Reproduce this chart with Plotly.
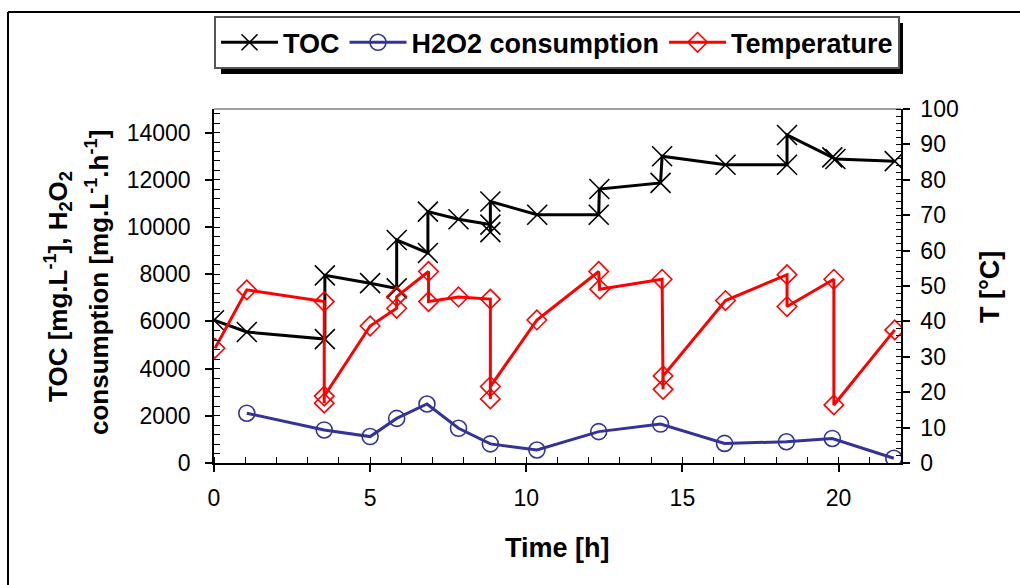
import plotly.graph_objects as go

# ---- data ----
time_toc = [0, 1.05, 3.55, 3.55, 5.0, 5.85, 5.85, 6.85, 6.85, 7.83, 8.85, 8.85, 8.85,
            10.35, 12.32, 12.34, 14.3, 14.35, 16.38, 18.35, 18.35, 19.8, 19.9, 21.8]
toc = [6050, 5550, 5250, 7950, 7620, 7400, 9450, 8900, 10650, 10330, 10100, 9780, 11080,
       10520, 10520, 11610, 11870, 13000, 12640, 12640, 13900, 12950, 12880, 12790]

time_h2o2 = [1.05, 3.53, 5.0, 5.85, 6.82, 7.83, 8.85, 10.34, 12.32, 14.3, 16.35, 18.33, 19.8, 21.77]
h2o2 = [2110, 1400, 1120, 1890, 2500, 1470, 810, 550, 1330, 1650, 830, 900, 1040, 200]

time_temp = [0.03, 1.05, 3.53, 3.53, 3.53, 5.0, 5.85, 5.85, 6.87, 6.87, 7.83, 8.85, 8.85, 8.85,
             10.34, 12.32, 12.35, 14.35, 14.38, 14.38, 16.38, 18.35, 18.35, 19.85, 19.85, 21.8]
temp = [32.4, 48.9, 45.6, 16.9, 18.9, 38.7, 43.7, 47.0, 54.1, 45.6, 46.9, 46.3, 18.1, 21.6,
        40.4, 54.1, 49.1, 51.9, 20.8, 24.6, 45.9, 53.2, 44.2, 51.9, 16.4, 37.6]

x_ticks = [0, 5, 10, 15, 20]
y_left_ticks = [0, 2000, 4000, 6000, 8000, 10000, 12000, 14000]
y_right_ticks = [0, 10, 20, 30, 40, 50, 60, 70, 80, 90, 100]

FONT = "Liberation Sans, Arial, sans-serif"
BLUE = "#333399"
RED = "#FF0000"

fig = go.Figure()
fig.add_trace(go.Scatter(
    x=time_toc, y=toc, name="TOC", mode="lines+markers",
    line=dict(color="black", width=3),
    marker=dict(symbol="x-thin", size=20, line=dict(color="black", width=1.6)),
))
fig.add_trace(go.Scatter(
    x=time_h2o2, y=h2o2, name="H2O2 consumption", mode="lines+markers",
    line=dict(color=BLUE, width=3),
    marker=dict(symbol="circle-open", size=16, color=BLUE, line=dict(color=BLUE, width=1.6)),
))
fig.add_trace(go.Scatter(
    x=time_temp, y=temp, name="Temperature", mode="lines+markers", yaxis="y2",
    line=dict(color=RED, width=3),
    marker=dict(symbol="diamond-open", size=15, color=RED, line=dict(color=RED, width=1.6)),
))

tickfont = dict(family=FONT, size=23, color="black")
common = dict(showgrid=False, zeroline=False, showline=True, linecolor="black", linewidth=1.5,
              tickcolor="black", tickwidth=1.5, tickfont=tickfont, tickformat="d")

fig.update_layout(
    width=1020, height=585,
    margin=dict(l=214, r=119, t=109, b=122, pad=0),
    paper_bgcolor="white", plot_bgcolor="white",
    font=dict(family=FONT, color="black"),
    xaxis=dict(range=[0, 22], tickmode="array", tickvals=x_ticks, ticks="outside", ticklen=7,
               ticklabelstandoff=7,
               minor=dict(dtick=1, ticks="inside", ticklen=6, tickcolor="black", tickwidth=1.2),
               **common),
    yaxis=dict(range=[0, 15000], tickmode="array", tickvals=y_left_ticks, ticks="outside", ticklen=7,
               ticklabelstandoff=10,
               minor=dict(dtick=400, ticks="inside", ticklen=6, tickcolor="black", tickwidth=1.2),
               **common),
    yaxis2=dict(range=[0, 100], overlaying="y", side="right", anchor="x", tickmode="array",
                tickvals=y_right_ticks, ticks="outside", ticklen=7, ticklabelstandoff=6,
                minor=dict(dtick=2, ticks="inside", ticklen=5, tickcolor="black", tickwidth=1.2),
                **common),
    xaxis2=dict(range=[0, 22], overlaying="x", anchor="y", side="bottom", tickmode="array",
                tickvals=x_ticks, ticks="inside", ticklen=7, tickcolor="black", tickwidth=1.5,
                showticklabels=False, showline=False, showgrid=False, zeroline=False),
    yaxis3=dict(range=[0, 15000], overlaying="y", anchor="x", side="left", tickmode="array",
                tickvals=y_left_ticks, ticks="inside", ticklen=7, tickcolor="black", tickwidth=1.5,
                showticklabels=False, showline=False, showgrid=False, zeroline=False),
    yaxis4=dict(range=[0, 100], overlaying="y", anchor="x", side="right", tickmode="array",
                tickvals=y_right_ticks, ticks="inside", ticklen=7, tickcolor="black", tickwidth=1.5,
                showticklabels=False, showline=False, showgrid=False, zeroline=False),
    legend=dict(orientation="h", x=0.0, xanchor="left", y=1.262, yanchor="top",
                bgcolor="white", bordercolor="#555555", borderwidth=2,
                font=dict(family=FONT, size=27, color="black", weight="bold"),
                itemwidth=57, tracegroupgap=0, traceorder="normal"),
    showlegend=True,
)

# frame pieces
W, H = 687.0, 354.0
def px_x(p):
    return (p - 214) / W
def px_y(p):
    return (463 - p) / H

shapes = [
    # legend shadow
    dict(type="rect", xref="paper", yref="paper", x0=px_x(221), x1=px_x(903), y0=px_y(74), y1=px_y(23),
         fillcolor="black", line=dict(width=0), layer="below"),
    # plot top border (grey)
    dict(type="line", xref="paper", yref="paper", x0=0, x1=1, y0=1, y1=1,
         line=dict(color="#808080", width=1.5), layer="below"),
    # outer chart border (left and top visible)
    dict(type="line", xref="paper", yref="paper", x0=px_x(8), x1=px_x(8), y0=px_y(12), y1=px_y(600),
         line=dict(color="black", width=2)),
    dict(type="line", xref="paper", yref="paper", x0=px_x(8), x1=px_x(1030), y0=px_y(12), y1=px_y(12),
         line=dict(color="black", width=2)),
]
fig.update_layout(shapes=shapes)

title_font = dict(family=FONT, size=26, color="black", weight="bold")
title_font2 = dict(family=FONT, size=27, color="black", weight="bold")
annotations = [
    dict(text="TOC [mg.L<sup>-1</sup>], H<sub>2</sub>O<sub>2</sub>", xref="paper", yref="paper",
         x=px_x(58), y=px_y(287), xanchor="center", yanchor="middle", textangle=-90,
         showarrow=False, font=title_font),
    dict(text="consumption [mg.L<sup>-1</sup>.h<sup>-1</sup>]", xref="paper", yref="paper",
         x=px_x(97), y=px_y(283), xanchor="center", yanchor="middle", textangle=-90,
         showarrow=False, font=title_font),
    dict(text="T [°C]", xref="paper", yref="paper", x=px_x(990), y=px_y(287),
         xanchor="center", yanchor="middle", textangle=-90, showarrow=False, font=title_font2),
    dict(text="Time [h]", xref="paper", yref="paper", x=px_x(557), y=px_y(548),
         xanchor="center", yanchor="middle", showarrow=False, font=title_font2),
]
fig.update_layout(annotations=annotations)

fig.write_html("out.html")
